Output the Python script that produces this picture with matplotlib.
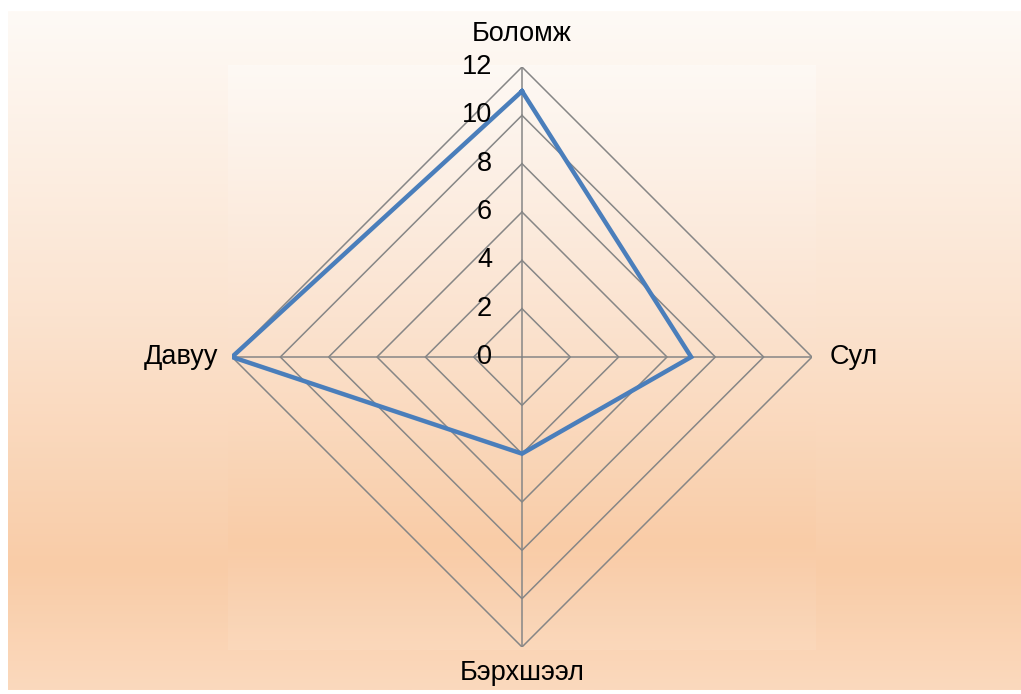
import numpy as np
import matplotlib
matplotlib.use("Agg")
import matplotlib.pyplot as plt
from matplotlib.colors import LinearSegmentedColormap

plt.rcParams['font.family'] = ['Liberation Sans', 'DejaVu Sans']

categories = ["Боломж", "Сул", "Бэрхшээл", "Давуу"]
values = [11, 7, 4, 12]
r_ticks = [0, 2, 4, 6, 8, 10, 12]
r_max = 12

W, H = 1021, 694
fig = plt.figure(figsize=(W / 100, H / 100), dpi=100)
fig.patch.set_facecolor("white")

grad = LinearSegmentedColormap.from_list(
    "peach",
    [(0.0, "#fefaf6"), (0.45, "#fbe3cf"), (0.82, "#f9cca7"), (1.0, "#fbd9bd")])
g = np.linspace(0, 1, 256).reshape(-1, 1)

# outer chart-area panel
bg = fig.add_axes([8 / W, (H - 690) / H, (W - 8) / W, (690 - 11) / H])
bg.imshow(g, aspect="auto", cmap=grad, extent=[0, 1, 1, 0])
bg.set_axis_off()

# inner plot-area panel
pa = fig.add_axes([228 / W, (H - 650) / H, (815 - 228) / W, (650 - 65) / H])
pa.imshow(g, aspect="auto", cmap=grad, extent=[0, 1, 1, 0], alpha=0.85)
pa.set_axis_off()

cx, cy, rad = 522, 357, 290
ax = fig.add_axes([(cx - rad) / W, (H - cy - rad) / H, 2 * rad / W, 2 * rad / H],
                  projection="polar")
ax.patch.set_alpha(0)
ax.set_theta_offset(np.pi / 2)
ax.set_theta_direction(-1)
ax.set_ylim(0, r_max)
ax.grid(False)
ax.spines["polar"].set_visible(False)
ax.set_xticks([])
ax.set_yticks([])

n = len(categories)
angles = np.arange(n) * 2 * np.pi / n
closed = np.append(angles, angles[0])

grid_color = "#868686"
for r in r_ticks[1:]:
    ax.plot(closed, [r] * (n + 1), color=grid_color, lw=1.1, zorder=1)
for a in angles:
    ax.plot([a, a], [0, r_max], color=grid_color, lw=1.1, zorder=1)

vals = np.append(values, values[0])
ax.plot(closed, vals, color="#4a7ebb", lw=3.2, zorder=3, solid_joinstyle="miter")

px = 0.72  # points per pixel at 100 dpi
fs = 19.5

# radial tick labels
for r in r_ticks:
    ax.annotate(str(r), xy=(0, r), xytext=(-30 * px, 0), textcoords="offset points",
                ha="right", va="center", fontsize=fs, color="black", zorder=4,
                annotation_clip=False)

# category labels
offsets = [(0, 20 * px), (18 * px, 0), (0, -13 * px), (-14 * px, 0)]
aligns = [("center", "bottom"), ("left", "center"), ("center", "top"), ("right", "center")]
for a, lab, off, (ha, va) in zip(angles, categories, offsets, aligns):
    ax.annotate(lab, xy=(a, r_max), xytext=off, textcoords="offset points",
                ha=ha, va=va, fontsize=fs, color="black", annotation_clip=False)

fig.savefig("out.png", dpi=100, facecolor=fig.get_facecolor())
